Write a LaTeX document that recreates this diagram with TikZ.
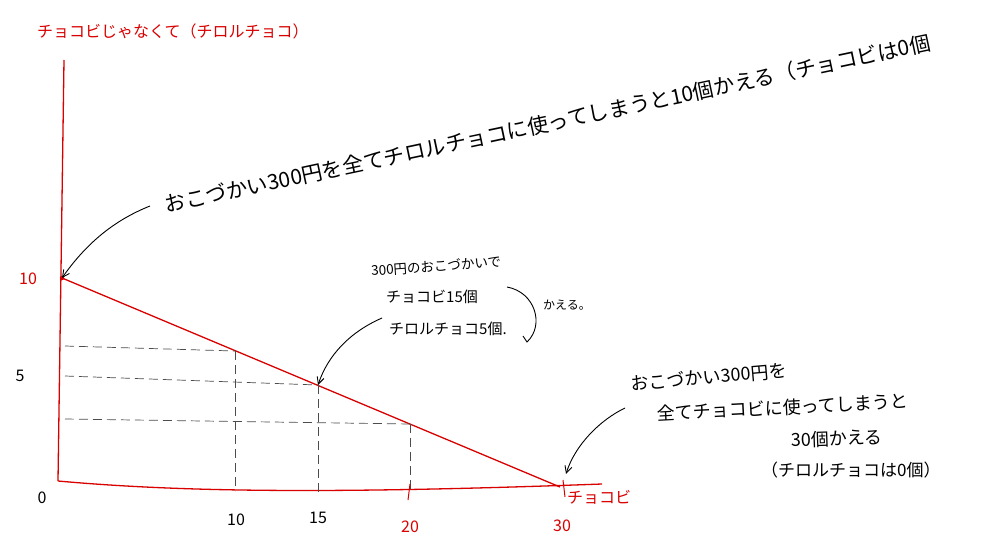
\documentclass[tikz,border=0pt]{standalone}
\usepackage{fontspec}
\setmainfont{Noto Sans CJK JP}
\usetikzlibrary{arrows.meta}
\tikzset{
  axisline/.style={draw=red!85!black, line width=1.3pt},
  budget/.style={draw=red!85!black, line width=1.3pt},
  guide/.style={draw=black!70, line width=0.7pt, dash pattern=on 9pt off 5pt},
  redlbl/.style={text=red!85!black, font=\fontsize{16}{18}\selectfont, inner sep=1pt},
  blklbl/.style={text=black, font=\fontsize{16}{18}\selectfont, inner sep=1pt},
  note/.style={text=black, font=\fontsize{15}{19}\selectfont, inner sep=1pt, align=left},
  pointer/.style={draw=black, line width=0.9pt, -{Straight Barb[length=7pt,width=7pt]}},
}
\begin{document}
\begin{tikzpicture}[x=1pt,y=-1pt]
\useasboundingbox[fill=white] (0,0) rectangle (987,543);
% key points
\coordinate (Ytop) at (64,60);
\coordinate (O) at (58,481);
\coordinate (Xend) at (602,484);
\coordinate (P10) at (62,278);
\coordinate (P30) at (560,487);
\coordinate (A10) at (235,351);
\coordinate (A15) at (318,385);
\coordinate (A20) at (410,424);
\coordinate (B10) at (235,491);
\coordinate (B15) at (318,492);
\coordinate (B20) at (410,492);
\coordinate (L10) at (65,346);
\coordinate (L15) at (65,376);
\coordinate (L20) at (65,419);
% axes
\draw[axisline] (Ytop) -- (O);
\draw[axisline] (O) .. controls (180,492) and (330,494) .. (Xend);
% budget line
\draw[budget] (P10) -- (P30);
\fill[red!85!black] (P10) circle (2.2pt);
% guides
\draw[guide] (L10) -- (A10);
\draw[guide] (L15) -- (A15);
\draw[guide] (L20) -- (A20);
\draw[guide] (A10) -- (B10);
\draw[guide] (A15) -- (B15);
\draw[guide] (A20) -- (B20);
% ticks
\draw[axisline, line width=1pt] (410,484) -- (408,500);
\draw[axisline, line width=1pt] (563,480) -- (565,497);
% labels
\node[redlbl, anchor=west] (ylab) at (36,31) {チョコビじゃなくて（チロルチョコ）};
\node[redlbl] (y10) at (28,279) {10};
\node[blklbl] (y5) at (20,376) {5};
\node[blklbl] (x0) at (42,498) {0};
\node[blklbl] (x10) at (236,520) {10};
\node[blklbl] (x15) at (318,518) {15};
\node[redlbl] (x20) at (410,527) {20};
\node[redlbl] (x30) at (562,526) {30};
\node[redlbl, anchor=west] (xlab) at (566,497) {チョコビ};
% top note
\node[note, font=\fontsize{21}{25}\selectfont, anchor=south west, rotate=12] (top) at (166,216)
  {おこづかい300円を全てチロルチョコに使ってしまうと10個かえる（チョコビは0個};
% middle note
\node[note, font=\fontsize{13.5}{17}\selectfont, anchor=west, rotate=4] (m1) at (370,271) {300円のおこづかいで};
\node[note, anchor=west] (m2) at (385,297) {チョコビ15個};
\node[note, anchor=west] (m3) at (388,329) {チロルチョコ5個.};
\draw[black, line width=0.9pt] (507,287) .. controls (535,292) and (545,325) .. (527,342) -- (523,336);
\node[note, font=\fontsize{12}{14}\selectfont, anchor=west] (m4) at (542,305) {かえる。};
% right note
\node[note, font=\fontsize{18}{22}\selectfont, anchor=west, rotate=5] (r1) at (630,384) {おこづかい300円を};
\node[note, font=\fontsize{18}{22}\selectfont, anchor=west, rotate=3] (r2) at (656,414) {全てチョコビに使ってしまうと};
\node[note, font=\fontsize{18}{22}\selectfont, anchor=west, rotate=2] (r3) at (790,440) {30個かえる};
\node[note, font=\fontsize{17}{22}\selectfont, anchor=west] (r4) at (760,470) {（チロルチョコは0個）};
% pointers
\draw[pointer] (150,206) .. controls (120,218) and (90,238) .. (P10);
\draw[pointer] (382,318) .. controls (350,332) and (328,355) .. (A15);
\draw[pointer] (625,408) .. controls (600,420) and (575,445) .. (566,474);
\end{tikzpicture}
\end{document}
